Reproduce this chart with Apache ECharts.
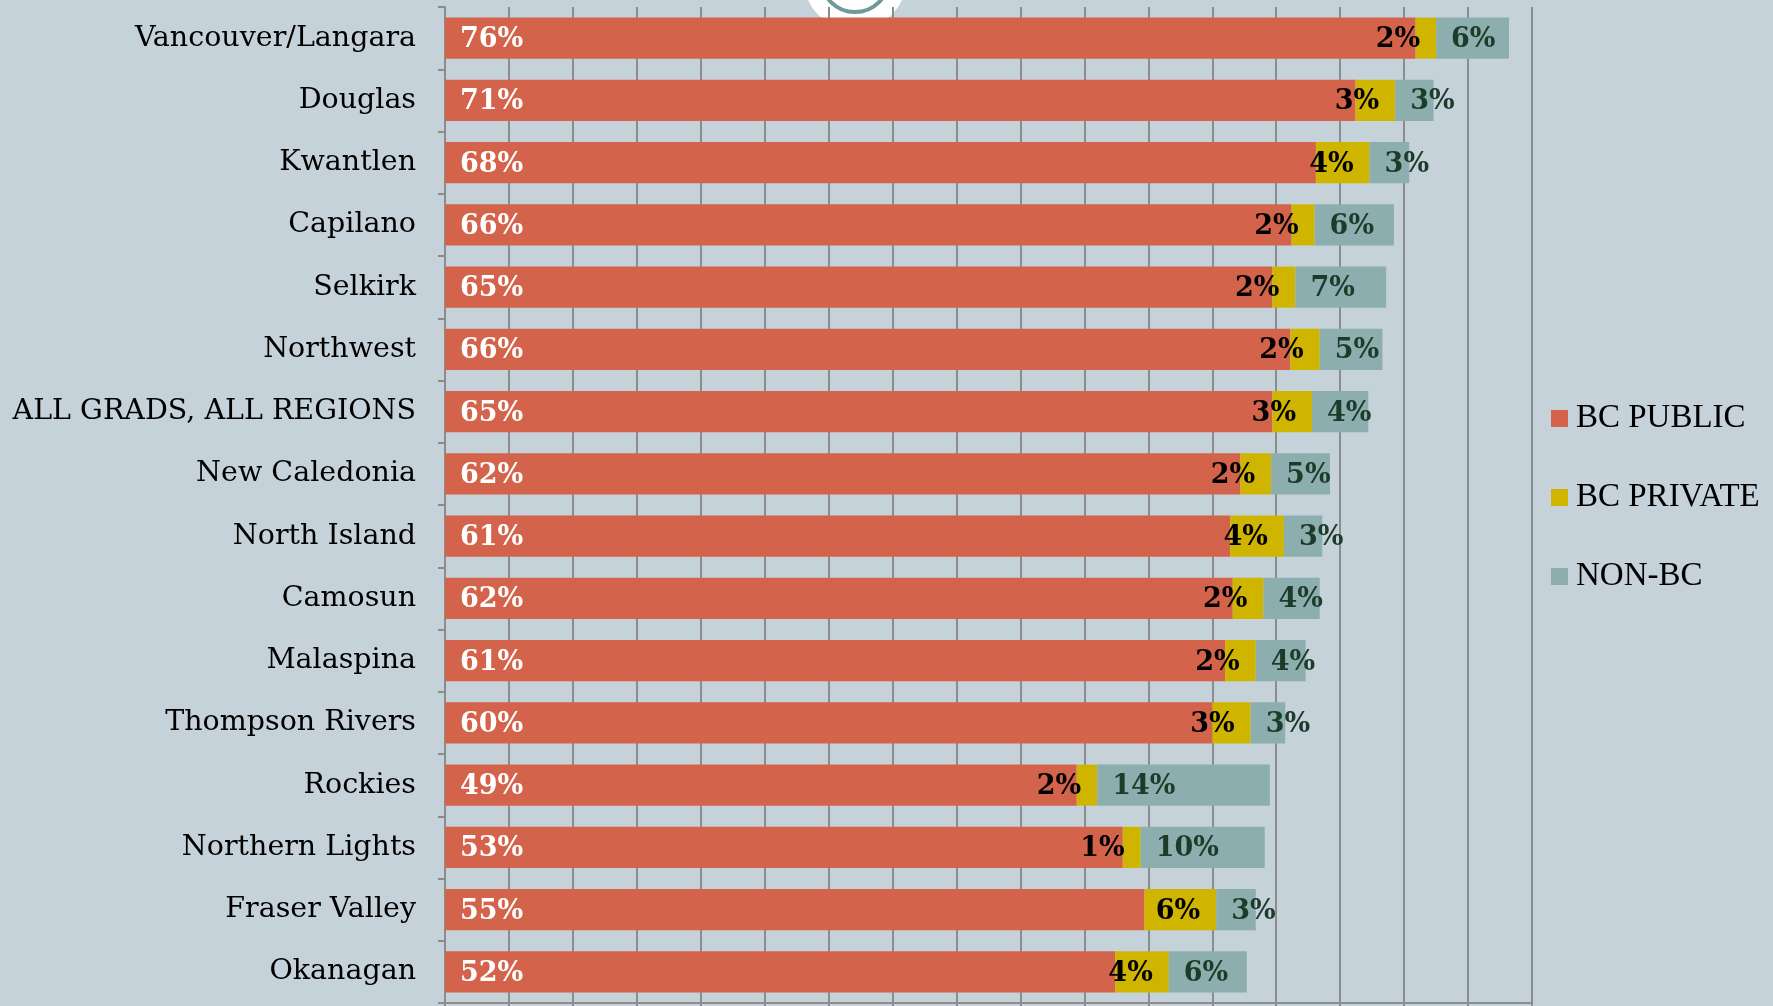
<!DOCTYPE html>
<html>
<head>
<meta charset="utf-8">
<script src="https://cdn.jsdelivr.net/npm/echarts@6/dist/echarts.min.js"></script>
<style>
  html, body { margin: 0; padding: 0; background: #c6d2d9; }
  #main { width: 1773px; height: 1006px; }
</style>
</head>
<body>
<div id="main"></div>
<script>
// categories top to bottom
const colleges = ['Vancouver/Langara', 'Douglas', 'Kwantlen', 'Capilano', 'Selkirk', 'Northwest',
  'ALL GRADS, ALL REGIONS', 'New Caledonia', 'North Island', 'Camosun', 'Malaspina',
  'Thompson Rivers', 'Rockies', 'Northern Lights', 'Fraser Valley', 'Okanagan'];
const bcPublic  = [75.9, 71.2, 68.1, 66.2, 64.7, 66.1, 64.7, 62.2, 61.4, 61.6, 61.0, 60.0, 49.4, 53.0, 54.7, 52.4];
const bcPrivate = [1.6, 3.1, 4.2, 1.8, 1.8, 2.3, 3.1, 2.4, 4.2, 2.4, 2.4, 3.0, 1.6, 1.4, 5.6, 4.2];
const nonBc     = [5.7, 3.0, 3.1, 6.2, 7.1, 4.9, 4.4, 4.6, 3.0, 4.4, 3.9, 2.7, 13.5, 9.7, 3.1, 6.1];

const serif = '"Liberation Serif", "DejaVu Serif", serif';
const wideSerif = '"DejaVu Serif", "Liberation Serif", serif';
const pct = p => Math.round(p.value) + '%';

let myChart = echarts.init(document.getElementById('main'));
myChart.setOption({
  backgroundColor: '#c6d2d9',
  animation: false,
  textStyle: { fontFamily: serif },
  grid: { left: 445, right: 241, top: 7, bottom: 3, containLabel: false },
  legend: {
    orient: 'vertical',
    left: 1551,
    top: 402,
    padding: 0,
    itemWidth: 17,
    itemHeight: 17,
    itemGap: 46,
    icon: 'rect',
    textStyle: { fontFamily: serif, fontSize: 33, color: '#000', lineHeight: 33, padding: [0, 0, 0, 3] },
    data: ['BC PUBLIC', 'BC PRIVATE', 'NON-BC']
  },
  xAxis: {
    type: 'value',
    min: 0,
    max: 85,
    interval: 5,
    axisLabel: { show: false },
    axisLine: { show: true, lineStyle: { color: '#8c8c8c', width: 2 } },
    axisTick: { show: true, length: 5, lineStyle: { color: '#8c8c8c', width: 2 } },
    splitLine: { show: true, lineStyle: { color: '#8c8c8c', width: 2 } }
  },
  yAxis: {
    type: 'category',
    inverse: true,
    data: colleges,
    axisLine: { show: true, lineStyle: { color: '#8c8c8c', width: 2 } },
    axisTick: { show: true, length: 7, lineStyle: { color: '#8c8c8c', width: 2 } },
    axisLabel: { color: '#000', fontFamily: wideSerif, fontSize: 28.5, margin: 29 }
  },
  graphic: [
    { type: 'circle', shape: { cx: 855, cy: -22, r: 52 }, style: { fill: '#ffffff' }, z: 0 },
    { type: 'circle', shape: { cx: 855, cy: -22, r: 34 }, style: { fill: 'none', stroke: '#6f9a9a', lineWidth: 4 }, z: 0 }
  ],
  series: [
    {
      name: 'BC PUBLIC', type: 'bar', stack: 'total', data: bcPublic,
      barCategoryGap: '34%',
      itemStyle: { color: '#d3634a' },
      label: { show: true, position: 'insideLeft', distance: 15, offset: [0, 2], formatter: pct,
        color: '#fff', fontWeight: 'bold', fontSize: 27, fontFamily: wideSerif }
    },
    {
      name: 'BC PRIVATE', type: 'bar', stack: 'total', data: bcPrivate,
      itemStyle: { color: '#cfb500' },
      label: { show: true, position: 'insideRight', distance: 16, offset: [0, 2], formatter: pct,
        color: '#000', fontWeight: 'bold', fontSize: 27, fontFamily: wideSerif }
    },
    {
      name: 'NON-BC', type: 'bar', stack: 'total', data: nonBc,
      itemStyle: { color: '#8caeae' },
      label: { show: true, position: 'insideLeft', distance: 15, offset: [0, 2], formatter: pct,
        color: '#1e3b2a', fontWeight: 'bold', fontSize: 27, fontFamily: wideSerif }
    }
  ]
});
</script>
</body>
</html>
